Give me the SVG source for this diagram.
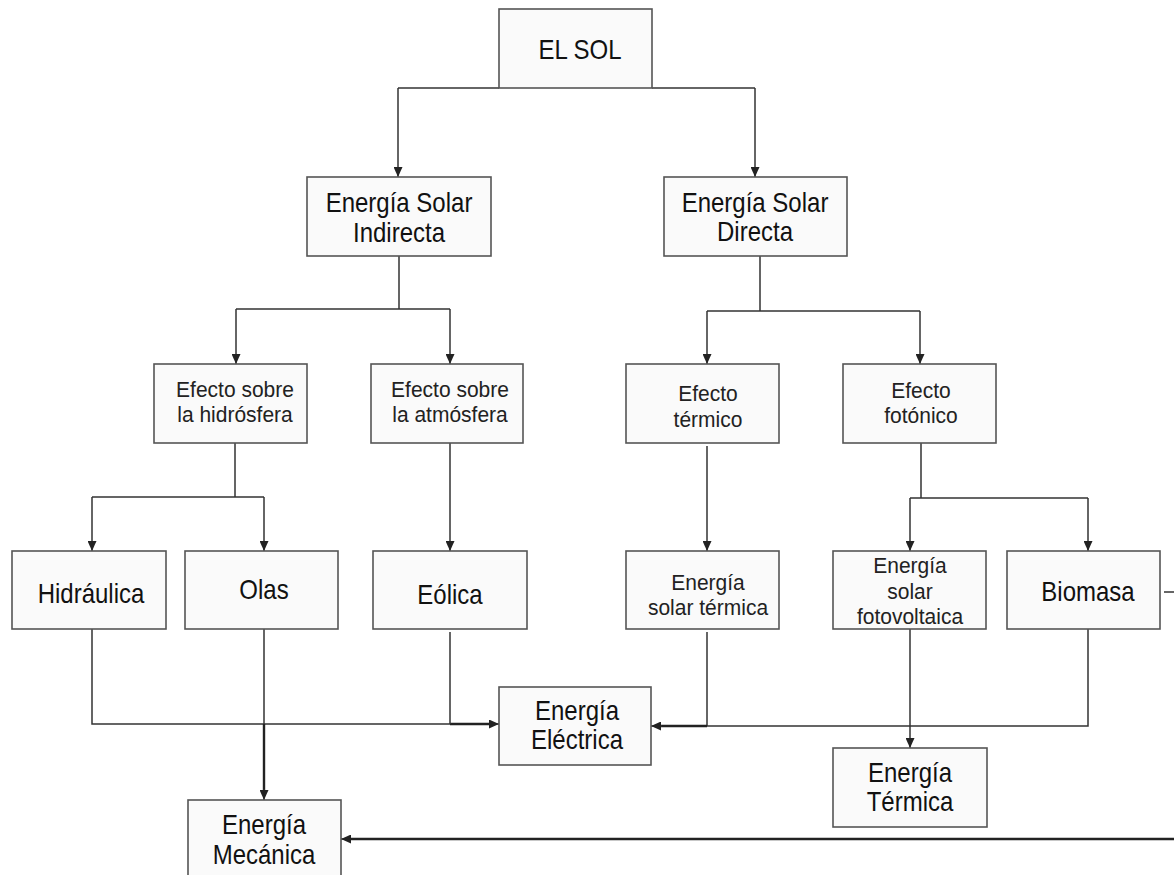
<svg xmlns="http://www.w3.org/2000/svg" width="1174" height="875" viewBox="0 0 1174 875">
<style>
.box{fill:#fafafa;stroke:#555;stroke-width:1.6}
.big{font-family:"Liberation Sans",Arial,sans-serif;font-size:24px;fill:#111;text-anchor:middle}
.sm{font-family:"Liberation Sans",Arial,sans-serif;font-size:21px;fill:#222;text-anchor:middle}
.c{fill:none;stroke:#333;stroke-width:1.5}
.ca{fill:none;stroke:#333;stroke-width:1.5;marker-end:url(#ah)}
.t{fill:none;stroke:#222;stroke-width:2.4}
</style>
<defs>
<marker id="ah" markerUnits="userSpaceOnUse" markerWidth="10" markerHeight="9" refX="10" refY="4.5" orient="auto">
<path d="M0,0 L10,4.5 L0,9 z" fill="#222"/>
</marker>
</defs>
<rect width="1174" height="875" fill="#fff"/>
<g id="connectors">
<path class="c" d="M499,88 H398"/>
<path class="ca" d="M398,88 V177"/>
<path class="c" d="M652,88 H755"/>
<path class="ca" d="M755,88 V177"/>
<path class="c" d="M399,256 V309 M236,309 H450"/>
<path class="ca" d="M236,309 V364"/>
<path class="ca" d="M450,309 V364"/>
<path class="c" d="M760,256 V311 M707,311 H920"/>
<path class="ca" d="M707,311 V364"/>
<path class="ca" d="M920,311 V364"/>
<path class="c" d="M235,443 V497 M92,497 H264"/>
<path class="ca" d="M92,497 V551"/>
<path class="ca" d="M264,497 V551"/>
<path class="ca" d="M450,443 V551"/>
<path class="ca" d="M707,446 V551"/>
<path class="c" d="M921,443 V498 M910,498 H1088"/>
<path class="ca" d="M910,498 V551"/>
<path class="ca" d="M1088,498 V551"/>
<path class="c" d="M92,629 V724 H450"/>
<path class="t" d="M450,724 H490"/>
<path class="ca" d="M489,724 H499"/>
<path class="c" d="M450,632 V724"/>
<path class="c" d="M264,629 V724"/>
<path class="t" d="M264,724 V790"/>
<path class="ca" d="M264,789 V800"/>
<path class="c" d="M707,632 V726"/>
<path class="c" d="M1088,629 V726 H707"/>
<path class="t" d="M707,726 H661"/>
<path class="ca" d="M662,726 H651"/>
<path class="ca" d="M910,629 V748"/>
<path class="c" d="M1164,592 H1174"/>
<path class="t" d="M1174,839 H350"/>
<path class="ca" d="M351,839 H341"/>
</g>
<g id="n-sol"><rect class="box" x="499" y="9" width="153" height="79"/><text class="big" transform="translate(580,59) scale(1,1.15)">EL SOL</text></g>
<g id="n-indirecta"><rect class="box" x="307" y="177" width="184" height="79"/><text class="big" transform="translate(399,212) scale(1,1.15)">Energía Solar</text><text class="big" transform="translate(399,242) scale(1,1.15)">Indirecta</text></g>
<g id="n-directa"><rect class="box" x="664" y="177" width="183" height="79"/><text class="big" transform="translate(755,212) scale(1,1.15)">Energía Solar</text><text class="big" transform="translate(755,241) scale(1,1.15)">Directa</text></g>
<g id="n-hidrosfera"><rect class="box" x="154" y="364" width="153" height="79"/><text class="sm" transform="translate(235,397) scale(1,1.06)">Efecto sobre</text><text class="sm" transform="translate(235,422) scale(1,1.06)">la hidrósfera</text></g>
<g id="n-atmosfera"><rect class="box" x="371" y="364" width="152" height="79"/><text class="sm" transform="translate(450,397) scale(1,1.06)">Efecto sobre</text><text class="sm" transform="translate(450,422) scale(1,1.06)">la atmósfera</text></g>
<g id="n-termico"><rect class="box" x="626" y="364" width="153" height="79"/><text class="sm" transform="translate(708,401) scale(1,1.06)">Efecto</text><text class="sm" transform="translate(708,427) scale(1,1.06)">térmico</text></g>
<g id="n-fotonico"><rect class="box" x="843" y="364" width="153" height="79"/><text class="sm" transform="translate(921,398) scale(1,1.06)">Efecto</text><text class="sm" transform="translate(921,423) scale(1,1.06)">fotónico</text></g>
<g id="n-hidraulica"><rect class="box" x="12" y="551" width="154" height="78"/><text class="big" transform="translate(91,603) scale(1,1.15)">Hidráulica</text></g>
<g id="n-olas"><rect class="box" x="185" y="551" width="153" height="78"/><text class="big" transform="translate(264,599) scale(1,1.15)">Olas</text></g>
<g id="n-eolica"><rect class="box" x="373" y="551" width="154" height="78"/><text class="big" transform="translate(450,604) scale(1,1.15)">Eólica</text></g>
<g id="n-solartermica"><rect class="box" x="626" y="551" width="153" height="78"/><text class="sm" transform="translate(708,590) scale(1,1.06)">Energía</text><text class="sm" transform="translate(708,615) scale(1,1.06)">solar térmica</text></g>
<g id="n-fotovoltaica"><rect class="box" x="833" y="551" width="153" height="78"/><text class="sm" transform="translate(910,573) scale(1,1.06)">Energía</text><text class="sm" transform="translate(910,599) scale(1,1.06)">solar</text><text class="sm" transform="translate(910,624) scale(1,1.06)">fotovoltaica</text></g>
<g id="n-biomasa"><rect class="box" x="1007" y="551" width="153" height="78"/><text class="big" transform="translate(1088,601) scale(1,1.15)">Biomasa</text></g>
<g id="n-electrica"><rect class="box" x="499" y="687" width="152" height="78"/><text class="big" transform="translate(577,720) scale(1,1.15)">Energía</text><text class="big" transform="translate(577,749) scale(1,1.15)">Eléctrica</text></g>
<g id="n-termica"><rect class="box" x="833" y="748" width="154" height="79"/><text class="big" transform="translate(910,782) scale(1,1.15)">Energía</text><text class="big" transform="translate(910,811) scale(1,1.15)">Térmica</text></g>
<g id="n-mecanica"><rect class="box" x="188" y="800" width="153" height="82"/><text class="big" transform="translate(264,834) scale(1,1.15)">Energía</text><text class="big" transform="translate(264,864) scale(1,1.15)">Mecánica</text></g>
</svg>
